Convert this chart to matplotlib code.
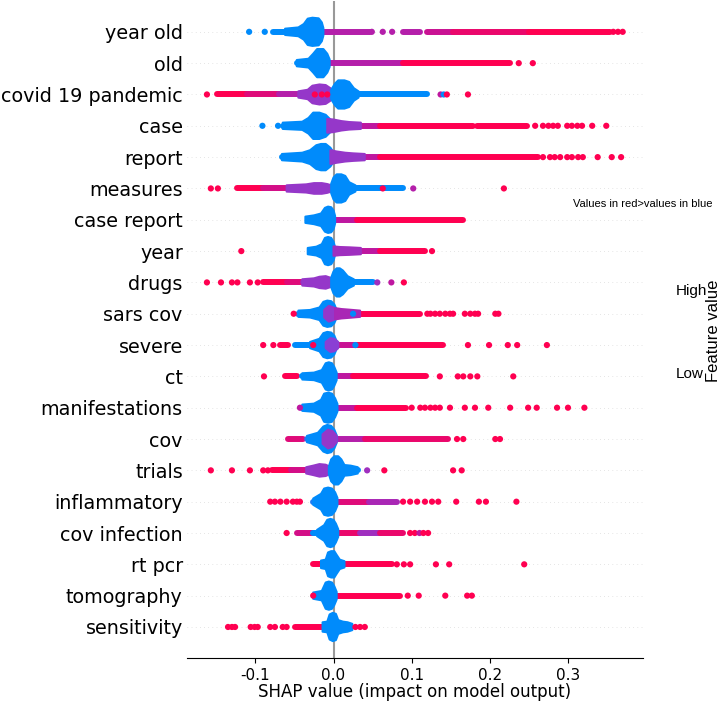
import matplotlib
matplotlib.use("Agg")
import matplotlib.pyplot as plt
import numpy as np
from matplotlib.colors import LinearSegmentedColormap

plt.rcParams['axes.unicode_minus'] = False

# features, top to bottom
features = ["year old", "old", "covid 19 pandemic", "case", "report", "measures",
            "case report", "year", "drugs", "sars cov", "severe", "ct",
            "manifestations", "cov", "trials", "inflammatory", "cov infection",
            "rt pcr", "tomography", "sensitivity"]

# dense bulbs near zero: (x profile, half height in rows, colour value 0=blue 1=red)
bulbs = [
    [([-0.062, -0.045, -0.038, -0.033, -0.027, -0.019, -0.015, -0.013], [0.10, 0.14, 0.25, 0.42, 0.45, 0.43, 0.30, 0.12], 0)],
    [([-0.047, -0.032, -0.026, -0.021, -0.013, -0.008, -0.005], [0.10, 0.14, 0.30, 0.45, 0.45, 0.30, 0.12], 0)],
    [([-0.045, -0.033, -0.027, -0.018, -0.010, -0.004, -0.001], [0.10, 0.15, 0.28, 0.32, 0.30, 0.20, 0.10], 0.5),
     ([-0.003, 0.002, 0.006, 0.014, 0.020, 0.026, 0.032], [0.15, 0.35, 0.45, 0.45, 0.40, 0.20, 0.10], 0)],
    [([-0.065, -0.040, -0.032, -0.026, -0.018, -0.010, -0.004, 0.000], [0.10, 0.13, 0.25, 0.42, 0.42, 0.35, 0.20, 0.12], 0),
     ([-0.008, 0.000, 0.010, 0.020, 0.035], [0.22, 0.20, 0.15, 0.12, 0.10], 0.5)],
    [([-0.066, -0.040, -0.030, -0.022, -0.016, -0.010, -0.004, 0.000], [0.10, 0.14, 0.22, 0.38, 0.42, 0.42, 0.30, 0.15], 0),
     ([-0.004, 0.004, 0.015, 0.025, 0.040], [0.22, 0.18, 0.14, 0.12, 0.10], 0.5)],
    [([-0.060, -0.035, -0.025, -0.015, -0.008, -0.003], [0.10, 0.13, 0.17, 0.17, 0.14, 0.10], 0.5),
     ([-0.003, 0.000, 0.004, 0.010, 0.015, 0.020, 0.028], [0.15, 0.35, 0.45, 0.45, 0.40, 0.20, 0.10], 0)],
    [([-0.036, -0.025, -0.016, -0.011, -0.007, -0.003, 0.000, 0.002], [0.10, 0.14, 0.20, 0.38, 0.42, 0.40, 0.30, 0.12], 0)],
    [([-0.033, -0.022, -0.015, -0.011, -0.007, -0.003, 0.000, 0.002], [0.10, 0.14, 0.22, 0.42, 0.45, 0.42, 0.30, 0.12], 0),
     ([0.000, 0.008, 0.020, 0.035], [0.15, 0.13, 0.12, 0.10], 0.55)],
    [([-0.040, -0.025, -0.018, -0.010, -0.004, -0.001], [0.10, 0.13, 0.18, 0.20, 0.15, 0.10], 0.5),
     ([-0.003, 0.000, 0.004, 0.008, 0.012, 0.018, 0.026], [0.15, 0.35, 0.45, 0.45, 0.38, 0.20, 0.10], 0)],
    [([-0.045, -0.030, -0.018, -0.013, -0.008, -0.003, 0.001, 0.004], [0.10, 0.12, 0.20, 0.38, 0.42, 0.40, 0.30, 0.12], 0),
     ([-0.012, -0.006, 0.000, 0.004], [0.12, 0.25, 0.20, 0.10], 0.5),
     ([0.002, 0.010, 0.020, 0.034], [0.18, 0.15, 0.13, 0.10], 0.6)],
    [([-0.030, -0.018, -0.013, -0.008, -0.003, 0.001, 0.004], [0.10, 0.20, 0.38, 0.42, 0.40, 0.30, 0.12], 0),
     ([-0.010, -0.004, 0.001, 0.006], [0.10, 0.22, 0.20, 0.10], 0.45)],
    [([-0.040, -0.025, -0.015, -0.010, -0.006, -0.002, 0.001, 0.004], [0.10, 0.12, 0.20, 0.42, 0.45, 0.42, 0.30, 0.12], 0)],
    [([-0.040, -0.025, -0.016, -0.012, -0.007, -0.002, 0.002, 0.005], [0.10, 0.13, 0.25, 0.45, 0.48, 0.45, 0.30, 0.12], 0)],
    [([-0.034, -0.020, -0.013, -0.008, -0.003, 0.001, 0.004], [0.10, 0.20, 0.40, 0.45, 0.42, 0.30, 0.12], 0),
     ([-0.014, -0.007, -0.001, 0.004], [0.15, 0.30, 0.25, 0.10], 0.5)],
    [([-0.035, -0.026, -0.018, -0.010, -0.005], [0.10, 0.15, 0.20, 0.18, 0.12], 0.5),
     ([-0.006, -0.003, 0.001, 0.006, 0.010, 0.014, 0.022, 0.031], [0.12, 0.35, 0.45, 0.45, 0.35, 0.17, 0.15, 0.10], 0)],
    [([-0.026, -0.016, -0.012, -0.007, -0.002, 0.002, 0.005], [0.10, 0.25, 0.42, 0.45, 0.42, 0.30, 0.12], 0)],
    [([-0.021, -0.012, -0.008, -0.004, 0.000, 0.003, 0.006], [0.10, 0.25, 0.42, 0.45, 0.42, 0.30, 0.12], 0)],
    [([-0.016, -0.010, -0.007, -0.003, 0.001, 0.004, 0.008, 0.014], [0.12, 0.15, 0.38, 0.42, 0.42, 0.30, 0.15, 0.10], 0)],
    [([-0.026, -0.015, -0.010, -0.006, -0.002, 0.001, 0.004], [0.10, 0.15, 0.42, 0.45, 0.42, 0.30, 0.12], 0)],
    [([-0.014, -0.008, -0.005, -0.001, 0.003, 0.006, 0.012, 0.018, 0.024], [0.15, 0.17, 0.40, 0.45, 0.42, 0.22, 0.17, 0.15, 0.10], 0)],
]

# single-row runs of overlapping dots: (x start, x end, colour value)
trails = [
    [(-0.077, -0.045, 0), (-0.014, 0.047, 0.65), (0.089, 0.111, 0.65), (0.120, 0.153, 0.75), (0.153, 0.250, 0.9), (0.250, 0.354, 1)],
    [(-0.047, -0.030, 0), (-0.006, 0.089, 0.65), (0.089, 0.226, 1)],
    [(-0.149, -0.111, 1), (-0.111, -0.070, 0.85), (-0.070, -0.040, 0.65), (0.025, 0.119, 0)],
    [(-0.065, -0.040, 0), (0.000, 0.060, 0.7), (0.060, 0.179, 1), (0.184, 0.248, 1)],
    [(-0.066, -0.040, 0), (0.000, 0.060, 0.7), (0.060, 0.262, 1)],
    [(-0.123, -0.090, 1), (-0.090, -0.050, 0.8), (-0.050, -0.026, 0.6), (0.028, 0.089, 0)],
    [(0.001, 0.030, 0.7), (0.030, 0.166, 1)],
    [(0.002, 0.060, 0.7), (0.060, 0.117, 1)],
    [(-0.090, -0.060, 1), (-0.060, -0.039, 0.85), (-0.039, -0.015, 0.6), (0.024, 0.051, 0)],
    [(-0.045, -0.030, 0.1), (0.002, 0.034, 0.65), (0.034, 0.111, 1)],
    [(-0.068, -0.058, 1), (-0.049, -0.020, 0), (0.002, 0.030, 0.75), (0.030, 0.140, 1)],
    [(-0.062, -0.047, 1), (-0.040, -0.020, 0), (0.002, 0.025, 0.7), (0.025, 0.118, 1)],
    [(-0.040, -0.020, 0), (0.004, 0.030, 0.7), (0.030, 0.093, 1)],
    [(-0.058, -0.039, 0.85), (-0.034, -0.017, 0.2), (0.004, 0.040, 0.65), (0.040, 0.147, 0.9)],
    [(-0.079, -0.055, 1), (-0.055, -0.035, 0.8), (0.022, 0.031, 0)],
    [(-0.026, -0.016, 0.1), (0.004, 0.045, 0.85), (0.045, 0.081, 0.6)],
    [(-0.047, -0.026, 0.8), (-0.026, -0.012, 0), (0.004, 0.034, 0.9), (0.034, 0.060, 0.55), (0.060, 0.089, 0.9)],
    [(-0.026, -0.012, 1), (0.008, 0.075, 1)],
    [(0.004, 0.085, 1)],
    [(-0.049, -0.010, 1)],
]

# isolated dots: (x, colour value)
dots = [
    [(-0.108, 0), (-0.088, 0), (0.049, 0.65), (0.063, 0.65), (0.075, 0.65), (0.358, 1), (0.364, 1), (0.370, 1)],
    [(0.237, 1), (0.255, 1)],
    [(-0.162, 1), (-0.024, 1), (-0.015, 1), (-0.008, 1), (0.137, 0.7), (0.141, 0), (0.145, 1), (0.172, 1)],
    [(-0.091, 0), (-0.071, 0), (0.258, 1), (0.268, 1), (0.275, 1), (0.281, 1), (0.287, 1), (0.299, 1),
     (0.305, 1), (0.312, 1), (0.318, 1), (0.331, 1), (0.349, 1)],
    [(0.268, 1), (0.277, 1), (0.283, 1), (0.290, 1), (0.299, 1), (0.305, 1), (0.313, 1), (0.319, 1),
     (0.338, 1), (0.356, 1), (0.368, 1)],
    [(-0.157, 1), (-0.148, 1), (0.063, 1), (0.102, 0.65), (0.218, 1)],
    [],
    [(-0.118, 1), (0.126, 1)],
    [(-0.162, 1), (-0.144, 1), (-0.130, 1), (-0.123, 1), (-0.107, 1), (-0.097, 1), (0.056, 0.55), (0.074, 0.7), (0.090, 1)],
    [(-0.051, 1), (0.025, 0), (0.120, 1), (0.124, 1), (0.130, 1), (0.136, 1), (0.143, 1), (0.149, 1), (0.153, 1),
     (0.168, 1), (0.175, 1), (0.181, 1), (0.185, 1), (0.207, 1), (0.211, 1)],
    [(-0.090, 1), (-0.077, 1), (-0.026, 1), (0.028, 0), (0.172, 1), (0.199, 1), (0.223, 1), (0.235, 1), (0.273, 1)],
    [(-0.089, 1), (0.136, 1), (0.159, 1), (0.166, 1), (0.175, 1), (0.184, 1), (0.230, 1)],
    [(-0.043, 0.7), (0.100, 1), (0.111, 1), (0.117, 1), (0.124, 1), (0.130, 1), (0.136, 1), (0.149, 1), (0.168, 1),
     (0.181, 1), (0.198, 1), (0.226, 1), (0.249, 1), (0.260, 1), (0.286, 1), (0.300, 1), (0.321, 1)],
    [(0.158, 1), (0.166, 1), (0.207, 1), (0.213, 1)],
    [(-0.157, 1), (-0.130, 1), (-0.107, 1), (-0.090, 1), (-0.084, 1), (0.043, 0.55), (0.065, 1), (0.153, 1), (0.164, 1)],
    [(-0.081, 1), (-0.075, 1), (-0.068, 1), (-0.060, 1), (-0.052, 1), (-0.047, 1), (-0.043, 1), (0.089, 1), (0.098, 1),
     (0.107, 1), (0.117, 1), (0.126, 1), (0.134, 1), (0.157, 1), (0.186, 1), (0.195, 1), (0.234, 1)],
    [(-0.060, 1), (0.098, 1), (0.104, 1), (0.110, 0.7), (0.115, 1), (0.121, 1)],
    [(0.081, 1), (0.090, 1), (0.098, 1), (0.131, 1), (0.148, 1), (0.244, 1)],
    [(-0.026, 1), (0.095, 1), (0.109, 1), (0.143, 1), (0.171, 1), (0.177, 1)],
    [(-0.135, 1), (-0.130, 1), (-0.126, 1), (-0.106, 1), (-0.101, 1), (-0.097, 1), (-0.081, 1), (-0.075, 1),
     (-0.065, 1), (-0.060, 1), (0.028, 1), (0.034, 1), (0.040, 1)],
]

xticks = [-0.1, 0.0, 0.1, 0.2, 0.3]

cmap = LinearSegmentedColormap.from_list(
    "red_blue", [(0.0, "#008bfb"), (0.45, "#8a3fd4"), (0.72, "#c2149c"), (1.0, "#ff0051")])


def col(v):
    return cmap(float(v))


W, H = 720, 703
fig = plt.figure(figsize=(W / 100, H / 100), dpi=100)
ax = fig.add_axes([187 / W, (H - 658.3) / H, (643 - 187) / W, (658.3 - 0.5) / H])

n = len(features)
for i in range(n):
    y = n - 1 - i
    ax.axhline(y, color="#cccccc", lw=0.5, dashes=(1, 5), zorder=-1)
    for x0, x1, c in trails[i]:
        ax.plot([x0, x1], [y, y], color=col(c), lw=4.3, solid_capstyle="round", zorder=2)
    for bx, bh, c in bulbs[i]:
        bx = np.array(bx)
        bh = np.array(bh)
        px = np.concatenate([bx, bx[::-1]])
        py = np.concatenate([y + bh, (y - bh)[::-1]])
        ax.fill(px, py, color=col(c), lw=1.5, joinstyle="round", zorder=3)
    if dots[i]:
        dx = [d[0] for d in dots[i]]
        dc = [col(d[1]) for d in dots[i]]
        ax.scatter(dx, [y] * len(dx), s=20, c=dc, lw=0, zorder=4)

ax.axvline(0, color="#999999", zorder=-1)

ax.set_xlim(-0.1875, 0.396)
ax.set_ylim(-1, n)
ax.set_yticks(range(n))
ax.set_yticklabels(features[::-1], fontsize=13.8)
ax.tick_params('y', length=0, pad=3)
ax.set_xticks(xticks)
ax.tick_params('x', labelsize=11)
for s in ["top", "right", "left"]:
    ax.spines[s].set_visible(False)
ax.set_xlabel("SHAP value (impact on model output)", fontsize=12, labelpad=0)

# colour bar (rendered blank in the reference), only its labels show
cax = fig.add_axes([668 / W, (H - 372) / H, 4 / W, (372 - 289) / H])
cax.set_xticks([])
cax.set_ylim(0, 1)
cax.yaxis.tick_right()
cax.set_yticks([0, 1])
cax.set_yticklabels(["Low", "High"], fontsize=11, family="Liberation Sans")
cax.tick_params(length=0, pad=3)
cax.yaxis.set_label_position("right")
cax.set_ylabel("Feature value", fontsize=12, family="Liberation Sans", labelpad=-1)
for s in cax.spines.values():
    s.set_visible(False)
cax.patch.set_alpha(0)

fig.text(573 / W, 1 - 204 / H, "Values in red>values in blue", fontsize=8,
         family="Liberation Sans", va="center")

fig.savefig("out.png", dpi=100)
